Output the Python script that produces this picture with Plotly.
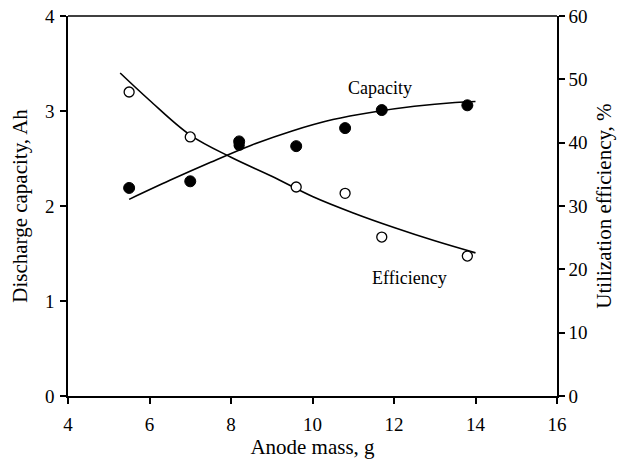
import plotly.graph_objects as go

# Measured points
mass_cap = [5.5, 7.0, 8.2, 9.6, 10.8, 11.7, 13.8]
capacity = [2.19, 2.26, 2.68, 2.63, 2.82, 3.01, 3.06]

mass_eff = [5.5, 7.0, 8.2, 9.6, 10.8, 11.7, 13.8]
efficiency = [48.0, 40.9, 39.6, 33.0, 32.0, 25.1, 22.1]

# Fitted curves
fit_cap_x = [5.5, 6.5, 7.5, 8.5, 9.5, 10.5, 11.5, 12.5, 13.5, 14.0]
fit_cap_y = [2.07, 2.27, 2.46, 2.64, 2.79, 2.91, 2.99, 3.05, 3.09, 3.10]

fit_eff_x = [5.28, 6.0, 7.0, 8.0, 9.0, 10.0, 11.0, 12.0, 13.0, 14.0]
fit_eff_y = [51.0, 46.7, 41.2, 37.7, 34.7, 31.5, 28.9, 26.6, 24.5, 22.6]

font = "Liberation Serif"

# open point at 8.2 is hidden under the filled capacity point in the original
eff_fill = ["black" if m == 8.2 else "white" for m in mass_eff]

fig = go.Figure()
fig.add_trace(go.Scatter(x=fit_cap_x, y=fit_cap_y, mode="lines", line=dict(color="black", width=1.6, shape="spline"),
                         showlegend=False, hoverinfo="skip"))
fig.add_trace(go.Scatter(x=mass_cap, y=capacity, mode="markers",
                         marker=dict(symbol="circle", size=11, color="black", line=dict(color="black", width=1)),
                         showlegend=False))
fig.add_trace(go.Scatter(x=fit_eff_x, y=fit_eff_y, mode="lines", yaxis="y2",
                         line=dict(color="black", width=1.6, shape="spline"), showlegend=False, hoverinfo="skip"))
fig.add_trace(go.Scatter(x=mass_eff, y=efficiency, mode="markers", yaxis="y2",
                         marker=dict(symbol="circle", size=10, color=eff_fill, line=dict(color="black", width=1.3)),
                         showlegend=False))

fig.add_annotation(x=11.66, y=3.24, text="Capacity", showarrow=False, font=dict(family=font, size=18, color="black"))
fig.add_annotation(x=12.39, y=1.24, text="Efficiency", showarrow=False, font=dict(family=font, size=18, color="black"))

axis_common = dict(showgrid=False, zeroline=False, showline=True, linecolor="black", linewidth=1.5,
                   ticks="outside", ticklen=6, tickwidth=1.5, tickcolor="black", automargin=False,
                   tickfont=dict(family=font, size=19, color="black"))

fig.update_layout(
    width=621, height=462,
    margin=dict(l=68, r=64, t=16, b=66),
    paper_bgcolor="white", plot_bgcolor="white",
    font=dict(family=font, color="black"),
    xaxis=dict(range=[4, 16], tickvals=[4, 6, 8, 10, 12, 14, 16], mirror=False, ticklabelstandoff=4,
               title=dict(text="Anode mass, g", font=dict(family=font, size=21), standoff=6),
               **axis_common),
    yaxis=dict(range=[0, 4], tickvals=[0, 1, 2, 3, 4], ticklabelstandoff=2,
               title=dict(text="Discharge capacity, Ah", font=dict(family=font, size=21), standoff=12),
               **axis_common),
    yaxis2=dict(range=[0, 60], tickvals=[0, 10, 20, 30, 40, 50, 60], overlaying="y", side="right",
                title=dict(text="Utilization efficiency, %", font=dict(family=font, size=21), standoff=10),
                **axis_common),
)
fig.add_shape(type="line", xref="paper", yref="paper", x0=0, x1=1, y0=1, y1=1,
              line=dict(color="black", width=1.5))

fig.write_html("out.html")
